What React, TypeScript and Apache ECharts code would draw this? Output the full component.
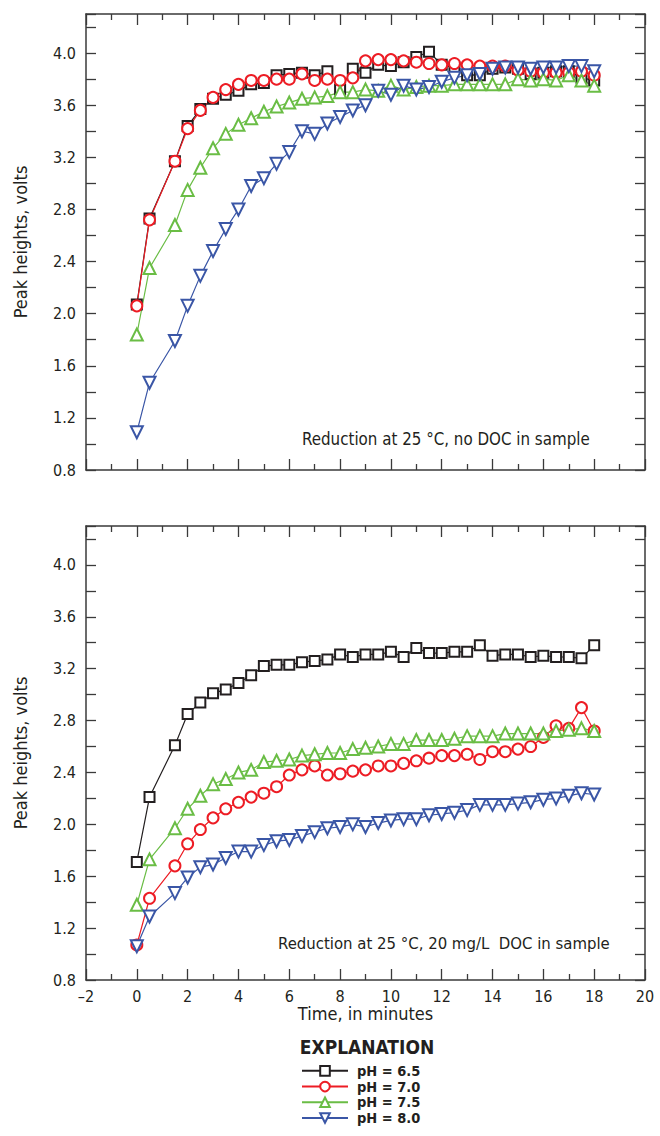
import React, { useEffect, useRef } from "react";
import * as echarts from "echarts";

const FONT = "'Liberation Sans Narrow', 'DejaVu Sans Condensed', 'Roboto', sans-serif";

const times = [0, 0.5, 1.5, 2, 2.5, 3, 3.5, 4, 4.5, 5, 5.5, 6, 6.5, 7, 7.5, 8, 8.5, 9, 9.5, 10, 10.5, 11, 11.5, 12, 12.5, 13, 13.5, 14, 14.5, 15, 15.5, 16, 16.5, 17, 17.5, 18];

const seriesNames = ["pH = 6.5", "pH = 7.0", "pH = 7.5", "pH = 8.0"];

// Top panel: no DOC in sample
const ph65Top = [2.07, 2.73, 3.17, 3.44, 3.57, 3.65, 3.68, 3.71, 3.76, 3.77, 3.83, 3.84, 3.85, 3.83, 3.86, 3.72, 3.88, 3.85, 3.91, 3.90, 3.93, 3.97, 4.01, 3.91, 3.89, 3.83, 3.83, 3.88, 3.89, 3.88, 3.84, 3.85, 3.86, 3.86, 3.81, 3.79];
const ph70Top = [2.06, 2.72, 3.17, 3.42, 3.56, 3.66, 3.72, 3.76, 3.79, 3.79, 3.80, 3.80, 3.84, 3.79, 3.80, 3.79, 3.81, 3.94, 3.95, 3.95, 3.94, 3.93, 3.92, 3.91, 3.92, 3.91, 3.90, 3.90, 3.90, 3.87, 3.86, 3.85, 3.85, 3.85, 3.86, 3.83];
const ph75Top = [1.84, 2.35, 2.68, 2.95, 3.12, 3.27, 3.38, 3.45, 3.50, 3.55, 3.59, 3.62, 3.65, 3.66, 3.67, 3.70, 3.70, 3.72, 3.71, 3.75, 3.72, 3.74, 3.75, 3.75, 3.76, 3.76, 3.76, 3.76, 3.76, 3.80, 3.79, 3.80, 3.79, 3.83, 3.79, 3.75];
const ph80Top = [1.09, 1.47, 1.79, 2.06, 2.29, 2.48, 2.65, 2.80, 2.98, 3.04, 3.15, 3.24, 3.40, 3.38, 3.46, 3.51, 3.56, 3.60, 3.71, 3.68, 3.75, 3.72, 3.74, 3.78, 3.81, 3.83, 3.84, 3.88, 3.89, 3.89, 3.88, 3.89, 3.89, 3.90, 3.90, 3.86];

// Bottom panel: 20 mg/L DOC in sample
const ph65Bot = [1.71, 2.21, 2.61, 2.85, 2.94, 3.01, 3.04, 3.09, 3.15, 3.22, 3.23, 3.23, 3.25, 3.26, 3.27, 3.31, 3.29, 3.31, 3.31, 3.33, 3.29, 3.36, 3.32, 3.32, 3.33, 3.33, 3.38, 3.30, 3.31, 3.31, 3.29, 3.30, 3.29, 3.29, 3.28, 3.38];
const ph70Bot = [1.07, 1.43, 1.68, 1.85, 1.96, 2.05, 2.12, 2.17, 2.21, 2.24, 2.29, 2.38, 2.42, 2.45, 2.38, 2.39, 2.41, 2.42, 2.45, 2.45, 2.47, 2.49, 2.51, 2.53, 2.53, 2.54, 2.50, 2.56, 2.56, 2.58, 2.60, 2.67, 2.76, 2.74, 2.90, 2.72];
const ph75Bot = [1.38, 1.73, 1.97, 2.12, 2.22, 2.31, 2.35, 2.40, 2.42, 2.48, 2.49, 2.50, 2.53, 2.54, 2.55, 2.55, 2.58, 2.59, 2.60, 2.62, 2.62, 2.65, 2.65, 2.65, 2.66, 2.68, 2.68, 2.68, 2.70, 2.70, 2.70, 2.70, 2.72, 2.73, 2.74, 2.72];
const ph80Bot = [1.06, 1.29, 1.47, 1.59, 1.67, 1.69, 1.74, 1.79, 1.79, 1.84, 1.87, 1.88, 1.91, 1.94, 1.97, 1.98, 2.00, 1.98, 2.01, 2.03, 2.04, 2.04, 2.07, 2.08, 2.09, 2.11, 2.15, 2.15, 2.15, 2.16, 2.17, 2.19, 2.20, 2.22, 2.24, 2.23];

const colors = ["#231f20", "#ed1c24", "#6abd45", "#3a56a6"];
const symbols = ["emptyRect", "emptyCircle", "emptyTriangle", "emptyTriangle"];
const symbolSizes = [10, 11, 12, 12];
const rotations = [0, 0, 0, 180];

const AXIS_COLOR = "#3a3a3a";

function xAxes(gi: number) {
  const base = {
    type: "value",
    gridIndex: gi,
    min: -2,
    max: 20,
    interval: 2,
    splitLine: { show: false },
    axisLine: { show: true, onZero: false, lineStyle: { color: AXIS_COLOR, width: 1.5 } },
    axisTick: { show: true, inside: true, length: 11, lineStyle: { color: AXIS_COLOR, width: 1.3 } },
    minorTick: { show: true, splitNumber: 2, length: 6, lineStyle: { color: AXIS_COLOR, width: 1.3 } },
  };
  return [
    {
      ...base,
      position: "bottom",
      name: gi === 1 ? "Time, in minutes" : "",
      nameLocation: "middle",
      nameGap: 24,
      nameTextStyle: { fontFamily: FONT, fontSize: 18, color: "#231f20" },
      axisLabel: {
        show: gi === 1,
        margin: 8,
        fontFamily: FONT,
        fontSize: 16,
        color: "#231f20",
        formatter: (v: number) => (v < 0 ? "\u2013" + Math.abs(v) : String(v)),
      },
    },
    { ...base, position: "top", axisLabel: { show: false } },
  ];
}

function yAxes(gi: number) {
  const base = {
    type: "value",
    gridIndex: gi,
    min: 0.8,
    max: 4.3,
    interval: 0.2,
    splitLine: { show: false },
    axisLine: { show: true, onZero: false, lineStyle: { color: AXIS_COLOR, width: 1.5 } },
    axisTick: { show: true, inside: true, length: 10, lineStyle: { color: AXIS_COLOR, width: 1.3 } },
  };
  return [
    {
      ...base,
      position: "left",
      name: "Peak heights, volts",
      nameLocation: "middle",
      nameGap: 57,
      nameTextStyle: { fontFamily: FONT, fontSize: 18, color: "#231f20" },
      axisLabel: {
        show: true,
        margin: 10,
        fontFamily: FONT,
        fontSize: 16,
        color: "#231f20",
        formatter: (v: number) => (Math.round(v * 10) % 4 === 0 ? v.toFixed(1) : ""),
      },
    },
    { ...base, position: "right", axisLabel: { show: false } },
  ];
}

function makeSeries(values: number[], idx: number, axisIdx: number) {
  return {
    type: "line",
    name: seriesNames[idx],
    xAxisIndex: axisIdx,
    yAxisIndex: axisIdx,
    data: times.map((t, i) => [t, values[i]]),
    symbol: symbols[idx],
    symbolSize: symbolSizes[idx],
    symbolRotate: rotations[idx],
    showAllSymbol: true,
    color: colors[idx],
    lineStyle: { color: colors[idx], width: 1.2 },
    itemStyle: { color: colors[idx], borderColor: colors[idx], borderWidth: 1.3 },
    emphasis: { disabled: true },
  };
}

export default function App() {
  const ref = useRef<HTMLDivElement>(null);
  useEffect(() => {
    document.body.style.margin = "0";
    if (!ref.current) return;
    const chart = echarts.init(ref.current, undefined, { renderer: "svg" });
    const option: any = {
      animation: false,
      backgroundColor: "#ffffff",
      grid: [
        { left: 86, top: 14, width: 559, height: 456 },
        { left: 86, top: 526, width: 559, height: 454 },
      ],
      xAxis: [...xAxes(0), ...xAxes(1)],
      yAxis: [...yAxes(0), ...yAxes(1)],
      legend: {
        orient: "vertical",
        left: 301,
        top: 1063,
        itemWidth: 46,
        itemHeight: 12,
        itemGap: 0,
        padding: 0,
        selectedMode: false,
        data: seriesNames,
        textStyle: { fontFamily: FONT, fontWeight: "bold", fontSize: 14.5, lineHeight: 15.7, color: "#231f20", padding: [0, 0, 0, 4] },
      },
      graphic: [
        {
          type: "text",
          x: 367,
          y: 1047,
          style: { text: "EXPLANATION", fontFamily: FONT, fontWeight: "bold", fontSize: 19, fill: "#231f20", align: "center", verticalAlign: "middle" },
        },
        {
          type: "text",
          x: 302,
          y: 439,
          style: { text: "Reduction at 25 \u00b0C, no DOC in sample", fontFamily: FONT, fontSize: 16.8, fill: "#231f20", align: "left", verticalAlign: "middle" },
        },
        {
          type: "text",
          x: 278,
          y: 943,
          style: { text: "Reduction at 25 \u00b0C, 20 mg/L  DOC in sample", fontFamily: FONT, fontSize: 16.6, fill: "#231f20", align: "left", verticalAlign: "middle" },
        },
      ],
      series: [
        makeSeries(ph65Top, 0, 0),
        makeSeries(ph70Top, 1, 0),
        makeSeries(ph75Top, 2, 0),
        makeSeries(ph80Top, 3, 0),
        makeSeries(ph65Bot, 0, 2),
        makeSeries(ph70Bot, 1, 2),
        makeSeries(ph75Bot, 2, 2),
        makeSeries(ph80Bot, 3, 2),
      ],
    };
    chart.setOption(option);
    return () => chart.dispose();
  }, []);
  return <div ref={ref} style={{ width: 660, height: 1136 }} />;
}
